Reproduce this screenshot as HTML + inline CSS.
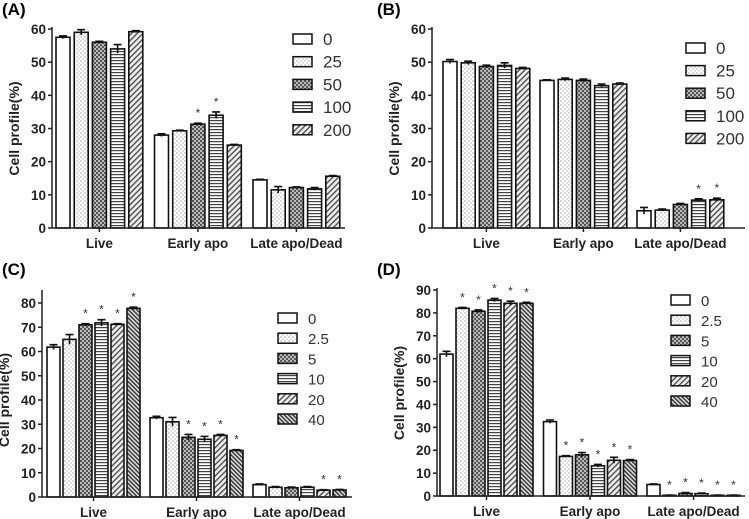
<!DOCTYPE html>
<html><head><meta charset="utf-8"><style>
body{margin:0;background:#fff;width:749px;height:519px;overflow:hidden}
svg{display:block;font-family:"Liberation Sans",Arial,sans-serif}
</style></head><body>
<svg id="s" width="749" height="519" viewBox="0 0 749 519">
<defs>
<pattern id="p1" width="4" height="4" patternUnits="userSpaceOnUse"><rect width="4" height="4" fill="#fff"/><circle cx="1" cy="1" r="0.6" fill="#777"/><circle cx="3" cy="3" r="0.6" fill="#999"/></pattern>
<pattern id="p2" width="4" height="4" patternUnits="userSpaceOnUse"><rect width="4" height="4" fill="#bbb"/><rect width="2" height="2" fill="#555"/><rect x="2" y="2" width="2" height="2" fill="#555"/></pattern>
<pattern id="p3" width="4" height="3" patternUnits="userSpaceOnUse"><rect width="4" height="3" fill="#fff"/><rect y="0" width="4" height="1.2" fill="#444"/></pattern>
<pattern id="p4" width="4" height="4" patternUnits="userSpaceOnUse" patternTransform="rotate(45)"><rect width="4" height="4" fill="#eee"/><rect width="1.3" height="4" fill="#444"/></pattern>
<pattern id="p5" width="3" height="3" patternUnits="userSpaceOnUse" patternTransform="rotate(-45)"><rect width="3" height="3" fill="#ddd"/><rect width="1.4" height="3" fill="#333"/></pattern>
</defs>
</svg>
<script>
const catsAll = ["Live","Early apo","Late apo/Dead"];
const seriesA = ["0","25","50","100","200"];
const liveA = [57.5,59,56,54,59.2];
const earlyA = [28,29.3,31.3,34,25];
const lateA = [14.5,11.5,12.2,11.8,15.6];
const errA = [[0.4,0.8,0.3,1.3,0.3],[0.4,0.2,0.3,1.0,0.2],[0.2,1.0,0.2,0.4,0.2]];
const starsA = [[0,0,0,0,0],[0,0,1,1,0],[0,0,0,0,0]];
const seriesB = ["0","25","50","100","200"];
const liveB = [50.2,49.8,48.7,49,48.1];
const earlyB = [44.5,44.8,44.5,42.9,43.4];
const lateB = [5.2,5.4,7.1,8.4,8.5];
const errB = [[0.6,0.5,0.4,0.8,0.3],[0.2,0.4,0.4,0.5,0.3],[1.0,0.3,0.3,0.4,0.5]];
const starsB = [[0,0,0,0,0],[0,0,0,0,0],[0,0,0,1,1]];
const seriesC = ["0","2.5","5","10","20","40"];
const liveC = [61.8,65,71,71.8,71.2,77.8];
const earlyC = [32.7,31,24.6,23.8,25.4,19.2];
const lateC = [5.1,4,3.8,4,2.8,2.9];
const errC = [[1,2,0.5,1.3,0.3,0.5],[0.6,1.8,1.2,1.2,0.4,0.3],[0.3,0.3,0.3,0.3,0.2,0.2]];
const starsC = [[0,0,1,1,1,1],[0,0,1,1,1,1],[0,0,0,0,1,1]];
const seriesD = ["0","2.5","5","10","20","40"];
const liveD = [62,82,80.7,85.6,84.2,84.2];
const earlyD = [32.5,17.3,18,13.2,15.6,15.5];
const lateD = [5,0.3,1.1,1,0.3,0.3];
const errD = [[1.2,0.4,0.6,0.7,0.9,0.4],[0.7,0.3,1.0,0.6,1.3,0.4],[0.3,0.1,0.4,0.3,0.1,0.1]];
const starsD = [[0,1,1,1,1,1],[0,1,1,1,1,1],[0,1,1,1,1,1]];
const fills5 = ["#fff","url(#p1)","url(#p2)","url(#p3)","url(#p4)"];
const fills6 = ["#fff","url(#p1)","url(#p2)","url(#p3)","url(#p4)","url(#p5)"];
const NS="http://www.w3.org/2000/svg";
const svg=document.getElementById('s');
function mk(t,a,p){const e=document.createElementNS(NS,t);for(const k in a)e.setAttribute(k,a[k]);(p||svg).appendChild(e);return e;}
function panel(cfg){
  const g=mk('g',{});
  
  
  const y=v=>cfg.y0-(v/cfg.ymax)*(cfg.y0-cfg.ytop);
  const t=mk('text',{x:cfg.lx,y:cfg.ly,'font-size':17,'font-weight':'bold'},g);t.textContent='('+cfg.id+')';
  
  
  const vals=[cfg.live,cfg.early,cfg.late];
  const n=cfg.series.length;
  vals.forEach((arr,ci)=>{
    const gs=cfg.gx0+ci*cfg.gp;
    arr.forEach((v,si)=>{
      const x=gs+si*cfg.bp;
      const r=mk('rect',{x:x,y:y(v),width:cfg.bw,height:Math.max(0.5,cfg.y0-y(v)),fill:cfg.fills[si],stroke:'#111','stroke-width':1.6},g);
      
      
      const e=cfg.err[ci][si],cx=x+cfg.bw/2;
      mk('path',{d:`M${cx},${y(v+e)}V${y(v-e)}M${cx-4},${y(v+e)}H${cx+4}`,stroke:'#111','stroke-width':1.6,fill:'none'},g);
      if(cfg.stars[ci][si]){const st=mk('text',{x:cx,y:y(v+e)-6,'font-size':12,'text-anchor':'middle',fill:'#333'},g);st.textContent='*';
        
        }
    });
    const cx=gs+((n-1)*cfg.bp+cfg.bw)/2;
    mk('line',{x1:cx,x2:cx,y1:cfg.y0,y2:cfg.y0+4,stroke:'#222','stroke-width':1.5},g);
    const cl=mk('text',{x:cx,y:cfg.y0+20,'font-size':13.5,'font-weight':'bold','text-anchor':'middle',fill:'#222'},g);cl.textContent=catsAll[ci];
    
    
  });
  mk('path',{d:`M${cfg.ax},${cfg.atop}V${cfg.y0}H${cfg.xend}`,stroke:'#222','stroke-width':1.5,fill:'none'},g);
  for(let v=0;v<=cfg.ymax;v+=10){
    mk('line',{x1:cfg.ax-4,x2:cfg.ax,y1:y(v),y2:y(v),stroke:'#222','stroke-width':1.5},g);
    const tl=mk('text',{x:cfg.ax-6,y:y(v)+5,'font-size':13.5,'font-weight':'bold','text-anchor':'end',fill:'#222'},g);tl.textContent=v;
    
    
  }
  const yt=mk('text',{x:0,y:0,'font-size':14,'font-weight':'bold','text-anchor':'middle',fill:'#222',transform:`translate(${cfg.ax-33},${(cfg.y0+cfg.ytop)/2}) rotate(-90)`},g);yt.textContent='Cell profile(%)';
  
  
  cfg.series.forEach((s,i)=>{
    const ly=cfg.legy+i*cfg.legp;
    const lb=mk('rect',{x:cfg.legx,y:ly-5,width:19,height:10,fill:cfg.fills[i],stroke:'#111','stroke-width':1.5},g);
    
    
    const lt=mk('text',{x:cfg.legx+30,y:ly+6,'font-size':cfg.legf,fill:'#333'},g);lt.textContent=s;
    
    
  });
}
panel({id:'A',lx:2,ly:15,series:seriesA,live:liveA,early:earlyA,late:lateA,err:errA,stars:starsA,fills:fills5,ax:52,ytop:29,atop:27,y0:228,ymax:60,xend:345,gx0:56,gp:98.5,bw:14,bp:18.2,legx:293,legy:39,legp:22.7,legf:17});
panel({id:'B',lx:377,ly:15,series:seriesB,live:liveB,early:earlyB,late:lateB,err:errB,stars:starsB,fills:fills5,ax:432,ytop:29,atop:27,y0:228,ymax:60,xend:745,gx0:443,gp:97,bw:14,bp:18.2,legx:686,legy:48,legp:22.6,legf:17});
panel({id:'C',lx:2,ly:275,series:seriesC,live:liveC,early:earlyC,late:lateC,err:errC,stars:starsC,fills:fills6,ax:42,ytop:303,atop:290,y0:497,ymax:80,xend:352,gx0:47,gp:103,bw:13,bp:16,legx:278,legy:318,legp:20.2,legf:15});
panel({id:'D',lx:377,ly:275,series:seriesD,live:liveD,early:earlyD,late:lateD,err:errD,stars:starsD,fills:fills6,ax:437,ytop:290,atop:288,y0:496,ymax:90,xend:745,gx0:440,gp:103.5,bw:13,bp:16,legx:671,legy:300,legp:20.2,legf:15});
</script>
</body></html>
